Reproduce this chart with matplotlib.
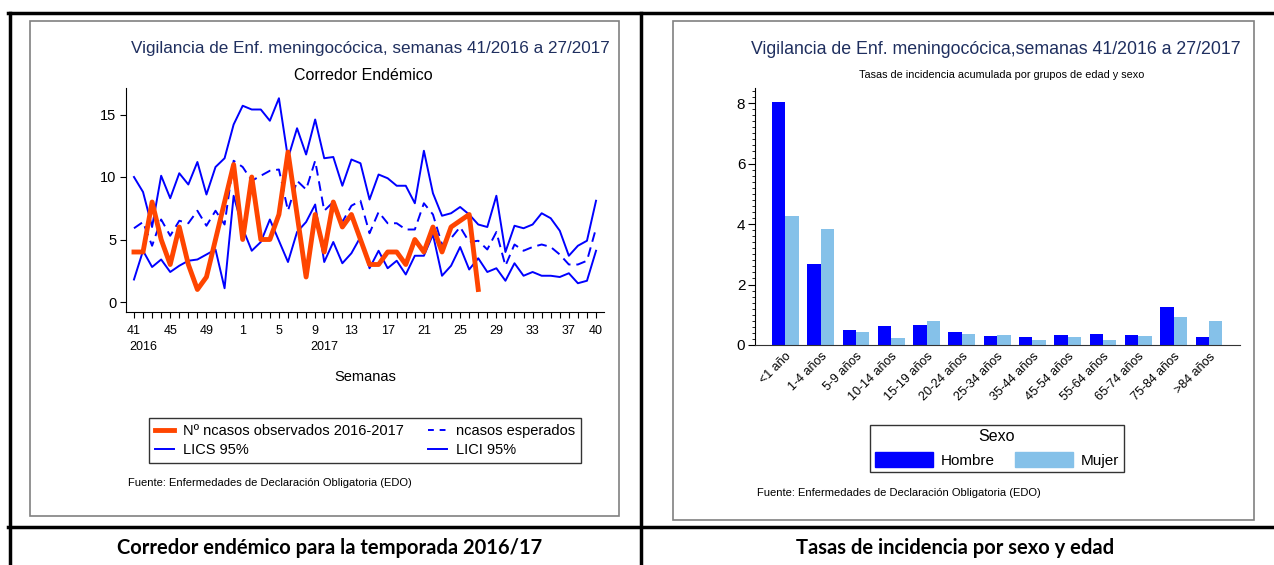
import matplotlib
matplotlib.use("Agg")
import matplotlib.pyplot as plt
from matplotlib.lines import Line2D
from matplotlib.patches import Patch
import numpy as np

plt.rcParams['font.family'] = ['Liberation Sans', 'DejaVu Sans']

W, H = 1274, 565

# --- datos: corredor endemico (semanas 41/2016 a 40/2017) ---
semanas = list(range(41, 53)) + list(range(1, 41))
observados = [4, 4, 8, 5, 3, 6, 3, 1, 2, 5, 8, 11, 5, 10, 5, 5, 7, 12, 7, 2,
              7, 4, 8, 6, 7, 5, 3, 3, 4, 4, 3, 5, 4, 6, 4, 6, 6.5, 7, 1]
esperados = [5.9, 6.4, 4.5, 6.6, 5.3, 6.5, 6.3, 7.3, 6.1, 7.3, 6.2, 11.3, 10.8,
             9.7, 10.1, 10.5, 10.6, 7.3, 9.7, 9.0, 11.3, 7.3, 8.0, 6.4, 7.7, 8.1,
             5.5, 7.2, 6.3, 6.3, 5.8, 5.8, 7.9, 7.0, 4.6, 5.1, 6.0, 4.8, 4.9, 4.2,
             5.6, 2.9, 4.6, 4.1, 4.4, 4.6, 4.4, 3.8, 3.0, 3.0, 3.3, 5.9]
lics = [10.0, 8.8, 6.0, 10.1, 8.3, 10.3, 9.4, 11.2, 8.6, 10.8, 11.5, 14.2, 15.7,
        15.4, 15.4, 14.5, 16.3, 11.5, 13.9, 11.8, 14.6, 11.5, 11.6, 9.3, 11.4,
        11.1, 8.2, 10.2, 9.9, 9.3, 9.3, 7.9, 12.1, 8.7, 6.9, 7.1, 7.6, 7.0, 6.2,
        6.0, 8.5, 4.0, 6.1, 5.9, 6.2, 7.1, 6.7, 5.7, 3.7, 4.5, 4.9, 8.1]
lici = [1.8, 4.1, 2.8, 3.4, 2.4, 2.9, 3.3, 3.4, 3.8, 4.2, 1.1, 8.5, 5.9, 4.1,
        4.8, 6.6, 4.9, 3.2, 5.6, 6.4, 7.8, 3.2, 4.8, 3.1, 3.9, 5.2, 2.7, 4.1,
        2.7, 3.3, 2.2, 3.7, 3.7, 5.4, 2.1, 2.9, 4.4, 2.6, 3.5, 2.4, 2.7, 1.7,
        3.1, 2.1, 2.4, 2.1, 2.1, 2.0, 2.3, 1.5, 1.7, 4.1]
semanas_etiqueta = [41, 45, 49, 1, 5, 9, 13, 17, 21, 25, 29, 33, 37, 40]

# --- datos: tasas por edad y sexo ---
grupos = ['<1 año', '1-4 años', '5-9 años', '10-14 años', '15-19 años',
          '20-24 años', '25-34 años', '35-44 años', '45-54 años', '55-64 años',
          '65-74 años', '75-84 años', '>84 años']
hombre = [8.05, 2.68, 0.50, 0.62, 0.66, 0.44, 0.29, 0.25, 0.33, 0.37, 0.32, 1.25, 0.28]
mujer = [4.28, 3.83, 0.43, 0.22, 0.81, 0.35, 0.32, 0.16, 0.26, 0.15, 0.29, 0.92, 0.80]

NAVY = '#1f2f5f'
ORANGE = '#ff4500'
BLUE = '#0000ff'
LBLUE = '#85c1e9'


def fx(x):
    return x / W


def fy(y):
    return 1 - y / H


def box(x0, y0, x1, y1):
    return [fx(x0), fy(y1), (x1 - x0) / W, (y1 - y0) / H]


fig = plt.figure(figsize=(W / 100, H / 100), dpi=100)

# tabla del documento
for (xa, ya, xb, yb) in [(8, 13, 1274, 13), (8, 527, 1274, 527),
                         (9.5, 13, 9.5, 565), (641, 13, 641, 565)]:
    fig.add_artist(Line2D([fx(xa), fx(xb)], [fy(ya), fy(yb)], color='black', lw=2.5))

# marcos de los graficos
for (xa, ya, xb, yb) in [(30, 21, 619, 516), (673, 21, 1254, 520)]:
    fig.add_artist(plt.Rectangle((fx(xa), fy(yb)), (xb - xa) / W, (yb - ya) / H,
                                 fill=False, edgecolor='#808080', lw=1.2))

# ---------------- grafico izquierdo ----------------
ax1 = fig.add_axes(box(126, 88, 604, 312))
idx = np.arange(len(semanas))
ax1.plot(idx, lics, color=BLUE, lw=1.4)
ax1.plot(idx, lici, color=BLUE, lw=1.4)
ax1.plot(idx, esperados, color=BLUE, lw=1.4, ls=(0, (5, 3)))
ax1.plot(idx[:len(observados)], observados, color=ORANGE, lw=3.5)
ax1.set_xlim(-0.88, 51.88)
ax1.set_ylim(-0.8, 17.12)
ax1.spines['top'].set_visible(False)
ax1.spines['right'].set_visible(False)
ax1.set_yticks([0, 5, 10, 15])
ax1.set_xticks(idx)
ax1.set_xticklabels([str(s) if s in semanas_etiqueta else '' for s in semanas])
ax1.tick_params(axis='y', labelsize=10.5, length=4, pad=3)
ax1.tick_params(axis='x', labelsize=9, length=4, pad=5)
ax1.text(1, -0.155, '2016', transform=ax1.get_xaxis_transform(), ha='center', va='center', fontsize=9)
ax1.text(21, -0.155, '2017', transform=ax1.get_xaxis_transform(), ha='center', va='center', fontsize=9)

fig.text(fx(370), fy(48), 'Vigilancia de Enf. meningocócica, semanas 41/2016 a 27/2017',
         ha='center', va='center', fontsize=12.3, color=NAVY)
fig.text(fx(363), fy(75), 'Corredor Endémico', ha='center', va='center', fontsize=11.5)
fig.text(fx(365), fy(377), 'Semanas', ha='center', va='center', fontsize=10.5)

h1 = [Line2D([], [], color=ORANGE, lw=3.5),
      Line2D([], [], color=BLUE, lw=1.4),
      Line2D([], [], color=BLUE, lw=1.4, ls=(0, (3, 3))),
      Line2D([], [], color=BLUE, lw=1.4)]
l1 = ['Nº ncasos observados 2016-2017', 'LICS 95%', 'ncasos esperados', 'LICI 95%']
leg1 = fig.legend(h1, l1, ncol=2, loc='center', mode='expand',
                  bbox_to_anchor=box(142, 413, 588, 468),
                  fontsize=10.5, frameon=True, fancybox=False, handlelength=1.3,
                  handletextpad=0.6, borderpad=0.4, labelspacing=0.35)
leg1.get_frame().set_edgecolor('black')
leg1.get_frame().set_linewidth(1)
fig.text(fx(128), fy(483), 'Fuente: Enfermedades de Declaración Obligatoria (EDO)',
         ha='left', va='center', fontsize=8)

# ---------------- grafico derecho ----------------
ax2 = fig.add_axes(box(755, 88, 1240, 345))
pos = np.arange(len(grupos))
ax2.bar(pos - 0.19, hombre, width=0.38, color=BLUE, label='Hombre')
ax2.bar(pos + 0.19, mujer, width=0.38, color=LBLUE, label='Mujer')
ax2.set_xlim(-0.86, 12.88)
ax2.set_ylim(0, 8.5)
ax2.spines['top'].set_visible(False)
ax2.spines['right'].set_visible(False)
ax2.spines['bottom'].set_color('#333333')
ax2.set_yticks([0, 2, 4, 6, 8])
ax2.set_yticks(np.arange(0, 8.5, 0.2), minor=True)
ax2.tick_params(axis='y', which='major', labelsize=11, length=5, pad=2)
ax2.tick_params(axis='y', which='minor', length=2.5)
ax2.set_xticks(pos)
ax2.set_xticklabels(grupos, rotation=45, ha='right', rotation_mode='anchor', fontsize=9)
ax2.tick_params(axis='x', length=0, pad=4)

fig.text(fx(996), fy(50), 'Vigilancia de Enf. meningocócica,semanas 41/2016 a 27/2017',
         ha='center', va='center', fontsize=12.8, color=NAVY)
fig.text(fx(1002), fy(75), 'Tasas de incidencia acumulada por grupos de edad y sexo',
         ha='center', va='center', fontsize=7.8)

h2 = [Patch(color=BLUE), Patch(color=LBLUE)]
leg2 = fig.legend(h2, ['Hombre', 'Mujer'], ncol=2, loc='center', mode='expand',
                  bbox_to_anchor=box(870, 420, 1124, 477), title='Sexo',
                  fontsize=11, title_fontsize=11.5, frameon=True, fancybox=False,
                  handlelength=3.8, handleheight=1.2, handletextpad=0.5,
                  borderpad=0.3, borderaxespad=0)
leg2.get_frame().set_edgecolor('black')
leg2.get_frame().set_linewidth(1)
fig.text(fx(757), fy(493), 'Fuente: Enfermedades de Declaración Obligatoria (EDO)',
         ha='left', va='center', fontsize=8)

# pies de tabla
fig.text(fx(330), fy(548), 'Corredor endémico para la temporada 2016/17',
         ha='center', va='center', fontsize=14.5, fontweight='bold', family='Lato')
fig.text(fx(955), fy(548), 'Tasas de incidencia por sexo y edad',
         ha='center', va='center', fontsize=14.5, fontweight='bold', family='Lato')

fig.savefig('out.png', dpi=100)
